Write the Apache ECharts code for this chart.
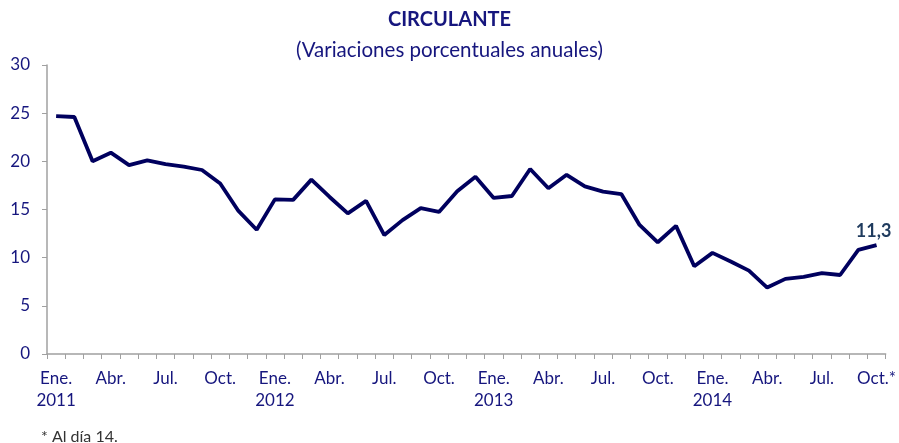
<!DOCTYPE html>
<html>
<head>
<meta charset="utf-8">
<script src="https://cdn.jsdelivr.net/npm/echarts@6/dist/echarts.min.js"></script>
<style>
html,body{margin:0;padding:0;background:#fff;}
#chart{width:899px;height:443px;}
</style>
</head>
<body>
<div id="chart"></div>
<script>
const categories = [
 "Ene.\n2011","Feb.","Mar.","Abr.","May.","Jun.","Jul.","Ago.","Sep.","Oct.","Nov.","Dic.",
 "Ene.\n2012","Feb.","Mar.","Abr.","May.","Jun.","Jul.","Ago.","Sep.","Oct.","Nov.","Dic.",
 "Ene.\n2013","Feb.","Mar.","Abr.","May.","Jun.","Jul.","Ago.","Sep.","Oct.","Nov.","Dic.",
 "Ene.\n2014","Feb.","Mar.","Abr.","May.","Jun.","Jul.","Ago.","Sep.","Oct.*"
];
const circulante = [
 24.7,24.6,20.0,20.9,19.6,20.1,19.7,19.45,19.1,17.7,14.85,12.9,
 16.05,16.0,18.1,16.3,14.6,15.9,12.35,13.9,15.15,14.75,16.9,18.4,
 16.2,16.4,19.2,17.2,18.6,17.4,16.85,16.6,13.4,11.6,13.3,9.1,
 10.5,9.6,8.65,6.9,7.8,8.0,8.4,8.2,10.8,11.3
];
const yTicks = {min:0, max:30, interval:5};
const titleText = "CIRCULANTE";
const subtitleText = "(Variaciones porcentuales anuales)";
const footnote = "* Al día 14.";
const lastLabel = "11,3";

const navy = "#16167e";
const FONT = "Lato";

const seriesData = circulante.map((v,i)=> i===circulante.length-1 ? {
  value:v,
  label:{show:true, position:'top', formatter:lastLabel, distance:5, offset:[-3,0],
    fontFamily:FONT, fontWeight:'bold', fontSize:18, color:'#1f3b5e'}
} : v);

const chart = echarts.init(document.getElementById('chart'));
chart.setOption({
  animation:false,
  title:[
    {text:titleText, left:'center', top:5,
      textStyle:{fontFamily:FONT, fontWeight:'bold', fontSize:20, color:navy}},
    {text:subtitleText, left:'center', top:35,
      textStyle:{fontFamily:FONT, fontWeight:'normal', fontSize:20.5, color:navy}},
    {text:footnote, left:36, top:424,
      textStyle:{fontFamily:FONT, fontWeight:'normal', fontSize:16, color:'#333333'}}
  ],
  grid:{left:47, right:10, top:65, bottom:89, containLabel:false},
  xAxis:{
    type:'category', data:categories, boundaryGap:true,
    axisLine:{lineStyle:{color:'#a0a0a0', width:1.5}},
    axisTick:{show:true, interval:0, length:5, lineStyle:{color:'#a0a0a0'}},
    axisLabel:{interval:2, margin:14, fontFamily:FONT, fontSize:17, color:navy, lineHeight:22}
  },
  yAxis:{
    type:'value', min:yTicks.min, max:yTicks.max, interval:yTicks.interval,
    splitLine:{show:false},
    axisLine:{show:true, lineStyle:{color:'#a0a0a0', width:1.5}},
    axisTick:{show:true, length:5, lineStyle:{color:'#a0a0a0'}},
    axisLabel:{margin:17, fontFamily:FONT, fontSize:17, color:navy}
  },
  series:[{
    type:'line', data:seriesData, symbol:'circle', symbolSize:0, showSymbol:true,
    itemStyle:{color:'#00005e'},
    lineStyle:{color:'#00005e', width:3.8}
  }]
});
</script>
</body>
</html>
